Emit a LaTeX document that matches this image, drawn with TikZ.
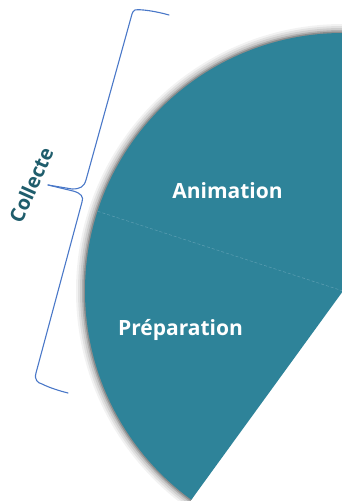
\documentclass[tikz,border=0pt]{standalone}
\usepackage{fontspec}
\usetikzlibrary{calc}
\newfontfamily\osans{Open Sans}
\definecolor{sectorteal}{HTML}{2E8399}
\definecolor{tealdark}{HTML}{1F5D6C}
\definecolor{braceblue}{HTML}{4A78C8}
\definecolor{dividerc}{HTML}{6FA9BC}
\begin{document}
\begin{tikzpicture}[x=1pt,y=1pt,
  lbl/.style={text=white,font=\osans\bfseries\fontsize{21}{25}\selectfont,inner sep=0pt,anchor=base},
  sidelbl/.style={text=tealdark,font=\osans\bfseries\fontsize{20}{24}\selectfont,inner sep=0pt},
  bracestyle/.style={draw=braceblue,line width=1.1pt,line join=round,line cap=round}]
\useasboundingbox (0,0) rectangle (342,501);
\clip (0,0) rectangle (342,501);
\coordinate (C) at (343,210);
% soft shadow along the arc
\foreach \w/\o in {18/0.05,14/0.07,10/0.09,6/0.14,3/0.2}{
  \draw[line width=\w pt, black, opacity=\o] (C) ++(90:258) arc[start angle=90,end angle=234,radius=258];
}
% sector
\fill[sectorteal] (C) -- ++(90:258) arc[start angle=90,end angle=234,radius=258] -- cycle;
\coordinate (D) at ($(C)+(162:258)$);
\draw[dividerc,line width=0.5pt,dash pattern=on 3pt off 2pt,opacity=0.7] (C) -- (D);
% labels
\node[lbl] (anim) at (227.5,302) {Animation};
\node[lbl] (prep) at (180.5,165) {Préparation};
\node[sidelbl,rotate=66] (coll) at (31,316) {Collecte};
% brace
\draw[bracestyle] (169,486) .. controls (155,490) and (140,492) .. (135,491)
  .. controls (133,490) and (133,489) .. (132,487) -- (86,321)
  .. controls (84,314) and (80,312) .. (72,312) -- (48,316);
\draw[bracestyle] (48,316) -- (73,310)
  .. controls (81,308) and (84,304) .. (82,299) -- (36,128)
  .. controls (34,121) and (38,118) .. (42,117)
  .. controls (50,113) and (60,110) .. (68,108);
\end{tikzpicture}
\end{document}
